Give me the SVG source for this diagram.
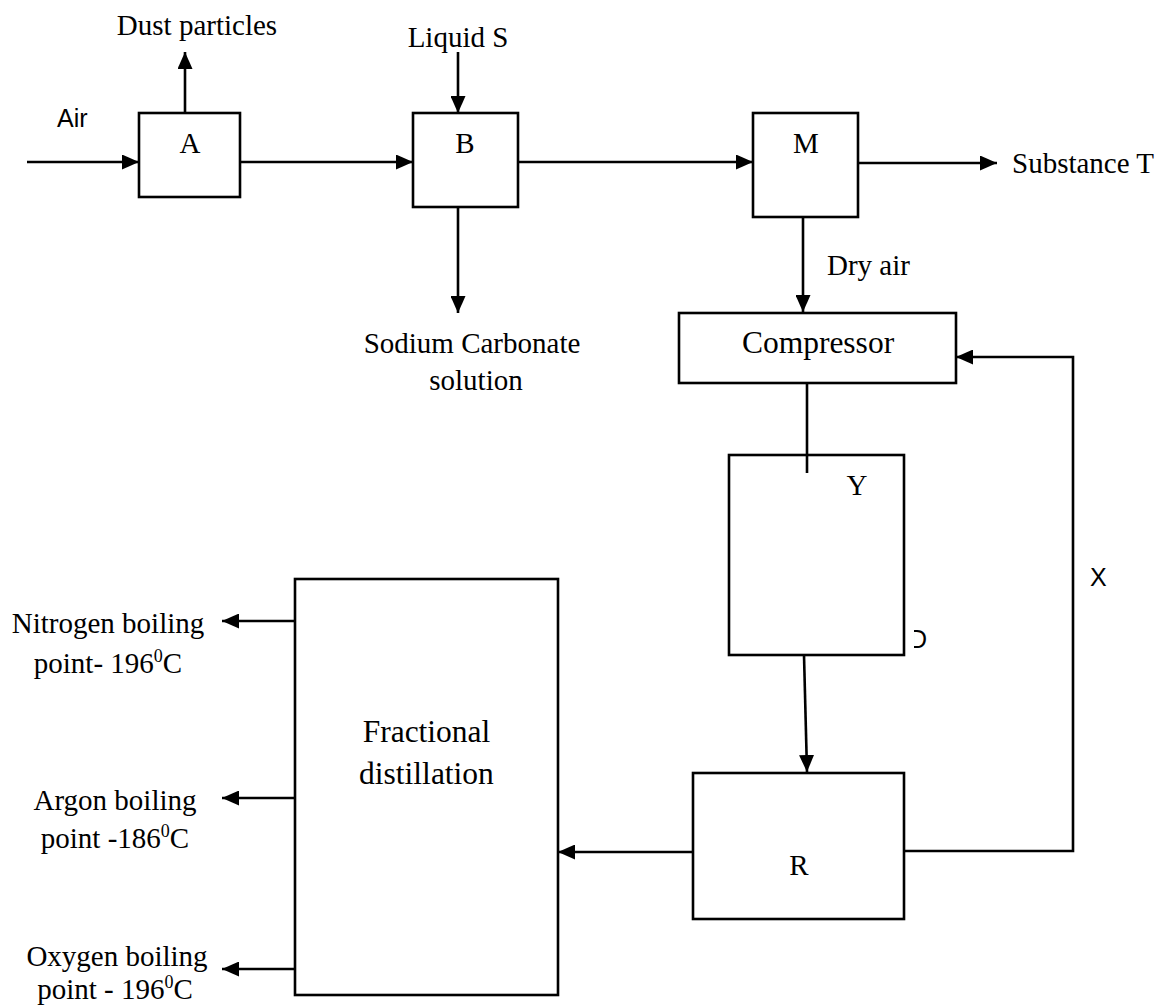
<svg xmlns="http://www.w3.org/2000/svg" width="1157" height="1007" viewBox="0 0 1157 1007">
<style>
.box{fill:#fff;stroke:#000;stroke-width:2.6}
.ln{fill:none;stroke:#000;stroke-width:2.6}
.arr{fill:none;stroke:#000;stroke-width:2.6;marker-end:url(#ah)}
.t{font-family:"Liberation Serif","Times New Roman",serif;font-size:29px;fill:#000}
.tb{font-family:"Liberation Serif","Times New Roman",serif;font-size:31.5px;fill:#000}
.s{font-family:"Liberation Sans",Arial,sans-serif;font-size:25px;fill:#000}
.m{text-anchor:middle}
</style>
<defs>
<marker id="ah" markerUnits="userSpaceOnUse" markerWidth="17" markerHeight="15" refX="17" refY="7.5" orient="auto">
<path d="M0,0 L17,7.5 L0,15 z" fill="#000"/>
</marker>
<clipPath id="dclip"><rect x="914" y="600" width="40" height="60"/></clipPath>
</defs>
<rect width="1157" height="1007" fill="#fff"/>
<g id="connectors">
<line class="arr" x1="27" y1="162" x2="139" y2="162"/>
<line class="arr" x1="240" y1="162" x2="413" y2="162"/>
<line class="arr" x1="185" y1="113" x2="185" y2="52"/>
<line class="arr" x1="458" y1="52" x2="458" y2="113"/>
<line class="arr" x1="458" y1="207" x2="458" y2="313"/>
<line class="arr" x1="518" y1="162" x2="753" y2="162"/>
<line class="arr" x1="858" y1="163" x2="997" y2="163"/>
<line class="arr" x1="803" y1="217" x2="803" y2="312"/>
<line class="ln" x1="807" y1="383" x2="807" y2="473"/>
<line class="arr" x1="804" y1="655" x2="807" y2="772"/>
<line class="arr" x1="693" y1="852" x2="558" y2="852"/>
<polyline class="arr" points="904,851 1073,851 1073,357 956,357"/>
<line class="arr" x1="295" y1="621" x2="222" y2="621"/>
<line class="arr" x1="295" y1="798" x2="222" y2="798"/>
<line class="arr" x1="295" y1="969" x2="222" y2="969"/>
</g>
<g id="label-air"><text class="s" x="57" y="127">Air</text></g>
<g id="label-dust"><text class="t m" x="197" y="35">Dust particles</text></g>
<g id="label-liquid"><text class="t m" x="458" y="47">Liquid S</text></g>
<g id="node-A"><rect class="box" x="139" y="113" width="101" height="84"/><text class="t m" x="190" y="153">A</text></g>
<g id="node-B"><rect class="box" x="413" y="113" width="105" height="94"/><text class="t m" x="465" y="153">B</text></g>
<g id="node-M"><rect class="box" x="753" y="113" width="105" height="104"/><text class="t m" x="806" y="153">M</text></g>
<g id="label-substance"><text class="t" x="1012" y="173">Substance T</text></g>
<g id="label-dryair"><text class="t" x="827" y="275">Dry air</text></g>
<g id="label-sodium"><text class="t m" x="472" y="353">Sodium Carbonate</text><text class="t m" x="476" y="390">solution</text></g>
<g id="node-compressor"><rect class="box" x="679" y="313" width="277" height="70"/><text class="tb m" x="818" y="353">Compressor</text></g>
<g id="node-Y"><rect class="box" x="729" y="455" width="175" height="200"/><line class="ln" x1="807" y1="455" x2="807" y2="473"/><text class="t m" x="857" y="495">Y</text><text class="s" x="909" y="648" clip-path="url(#dclip)">D</text></g>
<g id="label-X"><text class="s" x="1090" y="586">X</text></g>
<g id="node-R"><rect class="box" x="693" y="773" width="211" height="146"/><text class="t m" x="799" y="875">R</text></g>
<g id="node-fractional"><rect class="box" x="295" y="579" width="263" height="416"/><text class="tb m" x="426.5" y="742">Fractional</text><text class="tb m" x="426.5" y="784">distillation</text></g>
<g id="label-nitrogen"><text class="t m" x="108" y="633">Nitrogen boiling</text><text class="t m" x="108" y="673">point- 196<tspan font-size="18" dy="-11">0</tspan><tspan dy="11">C</tspan></text></g>
<g id="label-argon"><text class="t m" x="115" y="810">Argon boiling</text><text class="t m" x="115" y="848">point -186<tspan font-size="18" dy="-11">0</tspan><tspan dy="11">C</tspan></text></g>
<g id="label-oxygen"><text class="t m" x="117" y="966">Oxygen boiling</text><text class="t m" x="115" y="999">point - 196<tspan font-size="18" dy="-11">0</tspan><tspan dy="11">C</tspan></text></g>
</svg>
